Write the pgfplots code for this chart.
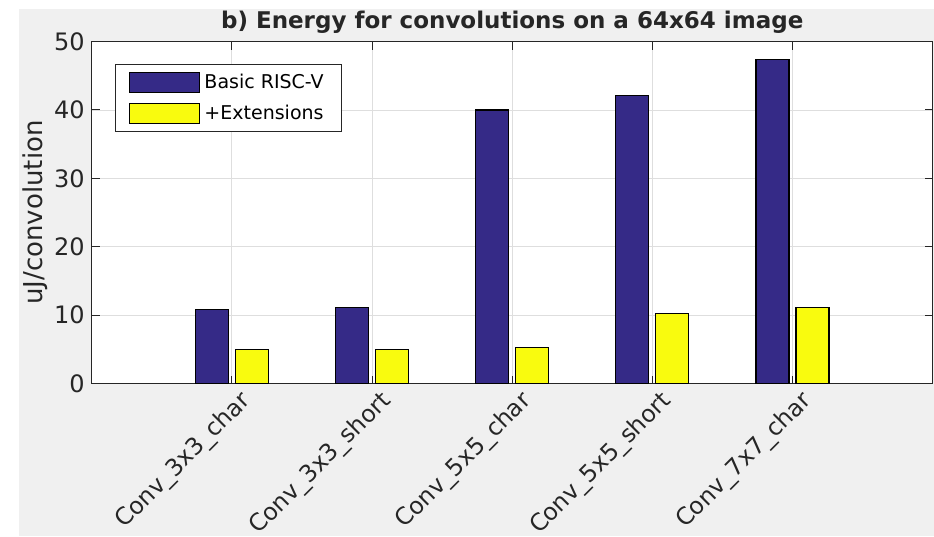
\documentclass[border=0pt]{standalone}
\usepackage{fontspec}
\setmainfont{DejaVu Sans}
\usepackage{pgfplots}
\pgfplotsset{compat=1.18}
\definecolor{bgray}{RGB}{240,240,240}
\definecolor{mblue}{RGB}{53,42,135}
\definecolor{myellow}{RGB}{249,251,14}
\definecolor{axc}{RGB}{38,38,38}
\begin{document}
\begin{tikzpicture}
\useasboundingbox (-45.85pt,-76.35pt) rectangle (421.15pt,191.75pt);
\fill[bgray] (-36.35pt,-76.35pt) rectangle (421.15pt,187.25pt);
\begin{axis}[
  at={(0pt,0pt)}, anchor=south west,
  scale only axis, width=420.5pt, height=171pt,
  xmin=0, xmax=6, ymin=0, ymax=50,
  ytick={0,10,...,50}, xtick={1,2,3,4,5},
  xticklabels={Conv\_3x3\_char,Conv\_3x3\_short,Conv\_5x5\_char,Conv\_5x5\_short,Conv\_7x7\_char},
  /pgf/number format/assume math mode=true,
  x tick label style={rotate=45, anchor=north east, font=\fontsize{11.8}{13}\selectfont, text=axc, xshift=4pt, yshift=-1pt},
  y tick label style={font=\fontsize{12}{13}\selectfont, text=axc},
  ybar=3.5pt, bar width=16.5pt,
  axis background/.style={fill=white},
  grid=major, major grid style={color=black!13, line width=0.4pt},
  tick align=inside, major tick length=4pt,
  tick style={axc, line width=0.5pt},
  axis line style={axc, line width=0.6pt},
  title={b) Energy for convolutions on a 64x64 image},
  every axis title/.style={at={(0.5,1)}, anchor=base, yshift=6.75pt, font=\bfseries\fontsize{11.5}{13}\selectfont, text=axc},
  ylabel={uJ/convolution},
  every axis y label/.style={at={(axis description cs:-0.0674,0.5)}, rotate=90, anchor=center, font=\fontsize{13}{14}\selectfont, text=axc},
  legend style={at={(axis description cs:0.0277,0.934)}, anchor=north west,
    draw=axc, line width=0.5pt, fill=white, font=\fontsize{9.5}{11}\selectfont,
    inner xsep=7pt, inner ysep=2.5pt, row sep=3pt},
  /tikz/every even column/.append style={column sep=4pt},
  legend cell align=left,
  legend image code/.code={\draw[#1, line width=0.5pt] (0pt,-5pt) rectangle (35pt,5pt);},
]
\addplot[fill=mblue, draw=black, line width=0.6pt] coordinates {(1,10.8) (2,11.1) (3,40.0) (4,42.1) (5,47.4)};
\addplot[fill=myellow, draw=black, line width=0.6pt] coordinates {(1,5.0) (2,5.0) (3,5.3) (4,10.25) (5,11.1)};
\legend{Basic RISC-V,+Extensions}
\end{axis}
\end{tikzpicture}
\end{document}
